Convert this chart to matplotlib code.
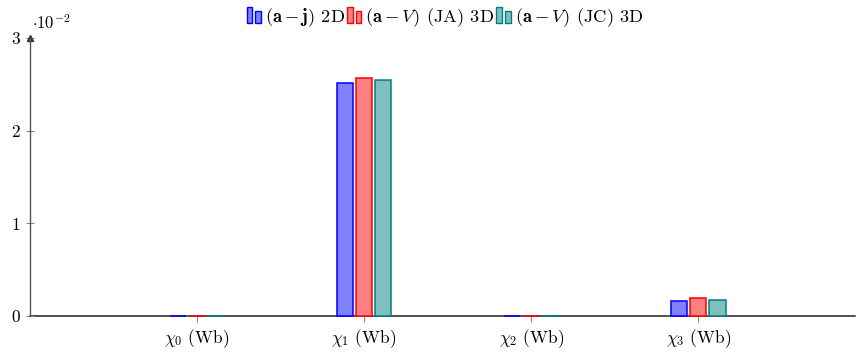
import numpy as np
import matplotlib
matplotlib.use('Agg')
import matplotlib.pyplot as plt
from matplotlib.patches import Rectangle
from matplotlib.legend_handler import HandlerBase

plt.rcParams['font.family'] = 'serif'
plt.rcParams['font.serif'] = ['cmr10', 'DejaVu Serif']
plt.rcParams['mathtext.fontset'] = 'cm'
plt.rcParams['axes.formatter.use_mathtext'] = True

categories = [r'$\chi_0$ (Wb)', r'$\chi_1$ (Wb)', r'$\chi_2$ (Wb)', r'$\chi_3$ (Wb)']
series_names = [r'$(\mathbf{a}-\mathbf{j})$ 2D',
                r'$(\mathbf{a}-V)$ (JA) 3D',
                r'$(\mathbf{a}-V)$ (JC) 3D']
# values in units of 1e-2 Wb
aj_2d = [0.001, 2.515, 0.001, 0.162]
av_ja_3d = [0.001, 2.568, 0.001, 0.194]
av_jc_3d = [0.001, 2.548, 0.001, 0.174]

fills = ['#8080ff', '#ff8080', '#80bfbf']
edges = ['#0000ff', '#ff0000', '#008080']


class TwoBars(HandlerBase):
    def create_artists(self, legend, orig_handle, xdescent, ydescent,
                       width, height, fontsize, trans):
        fc = orig_handle.get_facecolor()
        ec = orig_handle.get_edgecolor()
        w = width * 0.38
        r1 = Rectangle((-xdescent, -ydescent - 1), w, height * 1.25,
                       facecolor=fc, edgecolor=ec, lw=1, transform=trans)
        r2 = Rectangle((-xdescent + w * 1.55, -ydescent - 1), w, height * 0.95,
                       facecolor=fc, edgecolor=ec, lw=1, transform=trans)
        return [r1, r2]


fig = plt.figure(figsize=(8.56, 3.52), dpi=100)
ax = fig.add_axes([0.035, 0.102, 0.964, 0.79])

x = np.arange(len(categories))
bw = 0.1
off = 0.114
handles = []
for i, vals in enumerate([aj_2d, av_ja_3d, av_jc_3d]):
    b = ax.bar(x + (i - 1) * off, vals, bw, color=fills[i], edgecolor=edges[i],
               lw=1.1, zorder=3, label=series_names[i], clip_on=False)
    handles.append(b[0])

ax.set_xlim(-1.0, 3.94)
ax.set_ylim(0, 3)
ax.set_xticks(x)
ax.set_xticklabels(categories, fontsize=12.5)
ax.set_yticks([0, 1, 2, 3])
ax.set_yticklabels(['0', '1', '2', '3'], fontsize=12.5)

ax.spines['top'].set_visible(False)
ax.spines['right'].set_visible(False)
ax.spines['bottom'].set_color('#222222')
ax.spines['bottom'].set_linewidth(1.1)
ax.spines['bottom'].set_zorder(1)
ax.spines['left'].set_color('#555555')
ax.spines['left'].set_linewidth(1.0)
ax.tick_params(axis='x', direction='out', length=4, color='#888888', pad=4)
ax.tick_params(axis='y', direction='inout', length=6, color='#888888', pad=4)

ax.plot(0, 1, marker='^', color='#333333', ms=4, transform=ax.transAxes,
        clip_on=False)
ax.text(0.002, 1.02, r'$\cdot 10^{-2}$', transform=ax.transAxes,
        fontsize=12, ha='left', va='bottom')

ax.legend(handles, series_names, handler_map={h: TwoBars() for h in handles},
          loc='lower center', bbox_to_anchor=(0.503, 1.0), ncol=3,
          frameon=False, fontsize=13.3, handlelength=0.8, handletextpad=0.2,
          columnspacing=0.1, borderaxespad=0.1)

fig.savefig('out.png', dpi=100)
